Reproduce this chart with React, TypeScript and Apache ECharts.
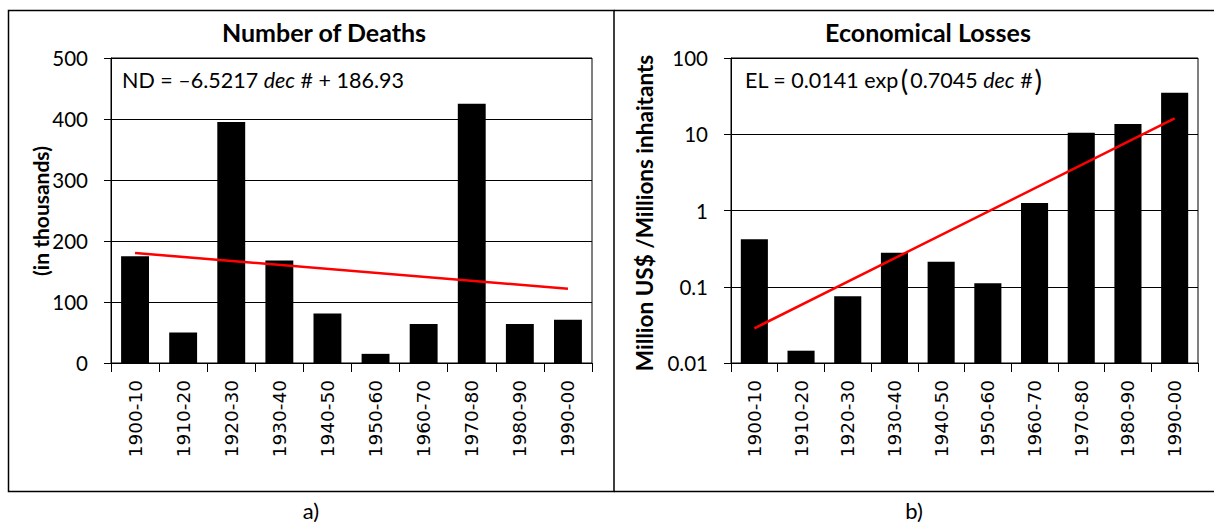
import React, { useEffect, useRef } from "react";
import * as echarts from "echarts";

// Decades on the category axis
const categories = [
  "1900-10", "1910-20", "1920-30", "1930-40", "1940-50",
  "1950-60", "1960-70", "1970-80", "1980-90", "1990-00",
];

// Number of deaths per decade (in thousands)
const deaths = [175, 50, 395, 168, 81, 15, 64, 425, 64, 71];

// Economical losses per decade (million US$ / million inhabitants)
const losses = [0.42, 0.0145, 0.075, 0.28, 0.213, 0.111, 1.25, 10.5, 13.6, 35];

// Fitted trends evaluated at dec# = 1 and dec# = 10
const deathsTrend = [180.41, 121.71]; // ND = -6.5217 dec# + 186.93
const lossesTrend = [0.0285, 16.18]; // EL = 0.0141 exp(0.7045 dec#)

// Axis ranges
const deathsAxis = { min: 0, max: 500, interval: 100 };
const lossesAxis = { min: 0.01, max: 100 };

const SANS = "Lato";
const TICK_FONT = "DejaVu Sans";

export default function App() {
  const ref = useRef<HTMLDivElement>(null);

  useEffect(() => {
    if (!ref.current) return;
    const chart = echarts.init(ref.current, null, { renderer: "svg" });

    const catAxis = (gridIndex: number) => ({
      type: "category" as const,
      gridIndex,
      data: categories,
      axisLine: { show: true, lineStyle: { color: "#000", width: 1 } },
      axisTick: { show: true, length: 9, lineStyle: { color: "#000" } },
      axisLabel: {
        interval: 0,
        rotate: 90,
        margin: 17,
        fontFamily: TICK_FONT,
        fontSize: 18.5,
        color: "#000",
      },
    });

    const valueAxisCommon = {
      axisLine: { show: true, lineStyle: { color: "#000", width: 1 } },
      axisTick: { show: true, length: 7, lineStyle: { color: "#000" } },
      splitLine: { show: true, lineStyle: { color: "#000", width: 1 } },
      axisLabel: { margin: 23, fontFamily: SANS, fontSize: 20.5, color: "#000" },
    };

    const trendData = (ends: number[]) => [
      [categories[0], ends[0]],
      [categories[categories.length - 1], ends[1]],
    ];

    chart.setOption({
      animation: false,
      backgroundColor: "#fff",
      grid: [
        { left: 111, top: 58, width: 481, height: 305, show: true, borderColor: "#000", borderWidth: 1, backgroundColor: "transparent" },
        { left: 731, top: 58, width: 467, height: 305, show: true, borderColor: "#000", borderWidth: 1, backgroundColor: "transparent" },
      ],
      xAxis: [catAxis(0), catAxis(1)],
      yAxis: [
        { type: "value", gridIndex: 0, ...deathsAxis, ...valueAxisCommon },
        {
          type: "log",
          gridIndex: 1,
          logBase: 10,
          ...lossesAxis,
          ...valueAxisCommon,
          axisLabel: {
            ...valueAxisCommon.axisLabel,
            formatter: (v: number) => String(Number(v.toPrecision(3))),
          },
        },
      ],
      series: [
        {
          type: "bar",
          xAxisIndex: 0,
          yAxisIndex: 0,
          data: deaths,
          barWidth: "58%",
          itemStyle: { color: "#000" },
          z: 2,
        },
        {
          type: "line",
          xAxisIndex: 0,
          yAxisIndex: 0,
          data: trendData(deathsTrend),
          symbol: "none",
          lineStyle: { color: "#ff0000", width: 2.5 },
          z: 3,
        },
        {
          // bars on the log axis grow up from the axis minimum
          type: "custom",
          xAxisIndex: 1,
          yAxisIndex: 1,
          data: losses.map((v, i) => [i, v]),
          encode: { x: 0, y: 1 },
          renderItem: (params: any, api: any) => {
            const idx = api.value(0);
            const val = api.value(1);
            const top = api.coord([idx, val]);
            const base = api.coord([idx, lossesAxis.min]);
            const w = (params.coordSys.width / categories.length) * 0.58;
            return {
              type: "rect",
              shape: { x: top[0] - w / 2, y: top[1], width: w, height: base[1] - top[1] },
              style: { fill: "#000" },
            };
          },
          z: 2,
        },
        {
          type: "line",
          xAxisIndex: 1,
          yAxisIndex: 1,
          data: trendData(lossesTrend),
          symbol: "none",
          lineStyle: { color: "#ff0000", width: 2.5 },
          z: 3,
        },
      ],
      graphic: [
        // panel frames
        { type: "rect", shape: { x: 8.5, y: 10.5, width: 605.5, height: 481 }, style: { fill: "none", stroke: "#000", lineWidth: 1.5 }, silent: true },
        { type: "line", shape: { x1: 614, y1: 10.5, x2: 1214, y2: 10.5 }, style: { stroke: "#000", lineWidth: 1.5 }, silent: true },
        { type: "line", shape: { x1: 614, y1: 491.5, x2: 1214, y2: 491.5 }, style: { stroke: "#000", lineWidth: 1.5 }, silent: true },

        // titles
        { type: "text", x: 324, y: 32, style: { text: "Number of Deaths", font: `bold 25px ${SANS}`, fill: "#000", align: "center", verticalAlign: "middle" } },
        { type: "text", x: 928, y: 32, style: { text: "Economical Losses", font: `bold 25px ${SANS}`, fill: "#000", align: "center", verticalAlign: "middle" } },

        // y-axis names
        { type: "text", x: 40, y: 211, rotation: Math.PI / 2, style: { text: "(in thousands)", font: `bold 21px ${SANS}`, fill: "#000", align: "center", verticalAlign: "middle" } },
        { type: "text", x: 644, y: 213, rotation: Math.PI / 2, style: { text: "Million US$ /Millions inhaitants", font: `bold 22.5px ${SANS}`, fill: "#000", align: "center", verticalAlign: "middle" } },

        // fitted equations
        {
          type: "text",
          x: 122,
          y: 80,
          z: 10,
          style: {
            text: "{n|ND = –6.5217 }{i|dec}{n| # + 186.93}",
            align: "left",
            verticalAlign: "middle",
            rich: {
              n: { fontFamily: SANS, fontSize: 21.5, fill: "#000" },
              i: { fontFamily: SANS, fontSize: 21.5, fontStyle: "italic", fill: "#000" },
            },
          },
        },
        {
          type: "text",
          x: 745,
          y: 80,
          z: 10,
          style: {
            text: "{n|EL = 0.0141 exp}{p|(}{n|0.7045 }{i|dec}{n| #}{p|)}",
            align: "left",
            verticalAlign: "middle",
            rich: {
              n: { fontFamily: SANS, fontSize: 21.5, fill: "#000" },
              i: { fontFamily: SANS, fontSize: 21.5, fontStyle: "italic", fill: "#000" },
              p: { fontFamily: SANS, fontSize: 28, fill: "#000", padding: [0, 2, 0, 2] },
            },
          },
        },

        // panel captions
        { type: "text", x: 311, y: 510, style: { text: "a)", font: `22px ${SANS}`, fill: "#000", align: "center", verticalAlign: "middle" } },
        { type: "text", x: 914, y: 510, style: { text: "b)", font: `22px ${SANS}`, fill: "#000", align: "center", verticalAlign: "middle" } },
      ],
    });

    return () => chart.dispose();
  }, []);

  return (
    <div
      ref={ref}
      style={{ position: "absolute", left: 0, top: 0, width: 1214, height: 522, background: "#fff" }}
    />
  );
}
